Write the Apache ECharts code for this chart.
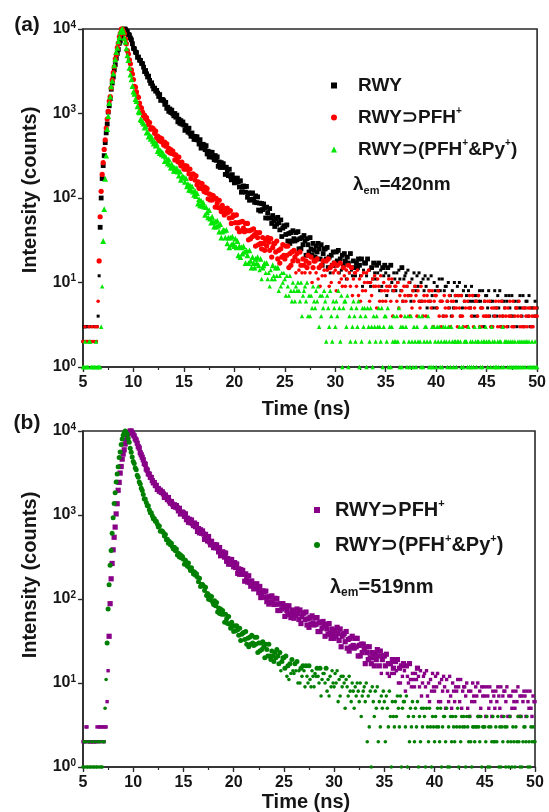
<!DOCTYPE html>
<html><head><meta charset="utf-8">
<script src="https://cdn.jsdelivr.net/npm/echarts@6/dist/echarts.min.js"></script>
<style>html,body{margin:0;padding:0;background:#fff}#chart{width:549px;height:812px}</style>
</head><body><div id="chart"></div>
<script>
// TCSPC channels: first channel time and channel width (ns)
const timeStart = 5;
const timeStep = 0.1;
const xTickRange = [5, 50];
const yDecades = [1, 10000];

// Panel (a), lambda_em = 420 nm
const rwyA = [
2,3,3,3,3,2,2,3,2,2,
2,3,2,2,3,4,12,45,100,170,
242,317,452,590,752,1040,1235,1500,1938,2290,
2702,3283,3781,4499,5138,5728,6765,7215,8220,9135,
9680,10000,9950,9450,9220,8620,8470,7820,7430,6690,
5904,5831,5329,5252,4627,4655,4277,4250,3918,3885,
3535,3135,3229,2950,2706,2772,2463,2275,2306,2119,
1954,1997,1838,1876,1741,1591,1675,1429,1469,1461,
1417,1283,1354,1152,1188,1060,1131,1028,1095,993,
939,1000,903,956,798,855,765,823,748,793,
728,632,718,655,601,670,582,538,588,537,
493,536,490,530,486,435,490,389,424,432,
423,373,416,332,358,306,349,307,347,304,
284,318,279,307,237,267,230,262,231,255,
231,190,231,206,184,219,181,164,189,168,
151,171,154,172,155,135,160,117,134,139,
136,117,137,102,115,94,113,96,115,97,
89,106,88,103,72,87,70,86,73,85,
76,58,78,67,58,75,58,50,62,54,
46,57,49,59,51,42,55,35,44,47,
46,37,48,31,38,29,39,31,41,33,
31,39,32,40,25,33,25,34,28,36,
31,21,33,28,23,34,25,21,29,24,
20,27,23,29,25,19,28,16,22,25,
25,19,26,15,20,13,21,16,23,17,
16,23,18,24,13,19,14,21,16,22,
18,11,20,17,13,22,14,12,18,15,
12,17,15,19,16,12,19,9,14,17,
17,12,19,10,14,9,15,11,17,13,
11,16,13,17,8,14,9,15,12,16,
13,7,15,12,9,16,10,8,13,11,
8,13,10,14,11,8,15,6,11,12,
13,9,14,7,10,6,11,8,13,9,
8,12,9,13,6,10,6,11,8,12,
9,5,11,8,6,12,7,5,10,8,
5,9,8,11,8,6,11,4,8,9,
9,6,10,5,7,4,8,5,10,7,
6,9,7,10,4,7,5,8,6,9,
7,3,8,6,5,9,6,4,7,6,
4,7,6,8,6,5,8,3,6,7,
7,5,8,4,6,3,6,4,8,5,
4,7,5,8,3,6,4,6,5,7,
6,3,7,5,4,7,4,3,6,5,
3,6,5,7,5,4,7,3,5,6,
6,4,7,3,5,3,5,4,6,4,
5];

const pfhA = [
2,2,3,2,2,2,3,2,2,3,
2,2,3,2,3,6,18,60,120,190,
262,376,488,673,860,1058,1404,1584,2008,2509,
3045,3573,4408,4998,6015,6825,8080,8888,9960,10000,
9386,8806,7577,6695,5546,5045,4308,3868,3280,2927,
2525,2090,2049,1800,1581,1554,1330,1181,1158,1040,
932,956,868,893,817,738,781,651,675,672,
650,583,621,519,541,478,519,468,506,453,
424,458,411,436,357,386,342,373,337,360,
329,282,325,295,269,305,261,240,266,240,
220,241,219,238,218,193,220,171,188,193,
188,163,183,143,155,130,150,130,148,128,
119,135,116,129,98,112,95,109,95,107,
98,78,99,87,77,94,76,69,82,72,
63,75,66,76,68,58,71,50,59,63,
62,51,63,44,51,40,52,41,53,44,
40,50,41,50,32,41,33,42,35,43,
37,27,39,34,28,39,29,25,34,29,
24,32,27,34,30,24,33,20,26,29,
29,23,31,19,24,17,25,20,28,21,
19,27,21,27,15,22,16,23,18,24,
20,13,22,18,14,23,16,13,19,16,
13,18,15,21,17,13,20,10,15,18,
18,13,19,11,15,9,16,12,18,14,
12,18,14,19,9,15,10,16,13,17,
14,8,16,13,10,17,11,9,15,12,
9,14,11,16,13,9,15,7,11,13,
13,9,14,7,11,6,12,8,13,10,
8,13,10,14,6,10,7,11,9,12,
9,5,11,9,6,12,8,6,10,8,
6,9,8,11,9,6,11,4,8,9,
9,6,10,5,7,4,8,6,9,7,
6,9,7,10,4,7,5,8,6,9,
7,4,8,6,5,9,6,4,7,6,
4,7,6,8,6,5,8,3,6,7,
7,5,8,4,6,3,6,4,7,5,
4,6,5,7,3,6,4,6,5,7,
5,3,7,5,4,7,4,3,6,5,
3,6,5,7,5,4,7,3,5,6,
6,4,7,3,5,3,5,4,6,4,
4,6,4,6,3,5,3,5,4,6,
5,3,6,4,3,6,4,3,5,4,
3,5,4,6,4,3,6,3,4,5,
5,4,6,3,4,3,5,3,5,4,
3,5,4,5,3,4,3,5,4,5,
4];

const pfhPyA = [
1,1,2,1,1,1,2,2,1,1,
1,1,1,2,1,1,1,1,3,9,
31,74,168,317,653,931,1326,1580,2090,2438,
2970,3723,4389,5330,5963,7153,7958,9237,9751,10000,
9255,7857,7045,5900,4861,4275,3469,2879,2538,2117,
1814,1714,1485,1400,1218,1053,1029,855,834,798,
761,680,708,595,604,532,560,502,528,473,
441,465,417,436,360,382,339,363,329,345,
317,273,308,281,257,287,248,229,251,229,
210,228,208,225,206,184,207,164,178,180,
176,155,172,137,147,125,141,123,137,119,
109,121,105,114,86,97,82,93,81,89,
79,63,78,68,59,72,57,51,60,52,
46,53,46,54,47,40,49,34,40,42,
41,34,42,29,34,26,34,28,35,29,
27,33,26,31,21,27,20,26,22,27,
23,17,24,21,17,24,18,15,20,17,
15,19,17,20,16,14,19,11,15,16,
17,13,17,11,13,9,14,11,16,12,
11,15,12,15,8,12,9,13,10,13,
11,7,12,9,7,12,8,6,10,8,
6,9,8,10,8,6,10,4,7,8,
9,6,10,4,7,4,7,5,9,6,
5,8,6,9,3,7,4,7,5,8,
6,2,7,5,3,8,4,2,6,5,
3,6,4,8,5,2,7,1,5,6,
6,3,7,1,4,2,5,3,6,4,
2,5,3,6,1,4,2,5,3,5,
4,1,5,3,2,5,3,1,4,3,
2,4,3,5,3,2,5,1,3,4,
4,2,5,1,3,1,3,2,4,2,
2,4,2,5,1,3,1,3,2,4,
3,1,4,2,1,4,2,1,3,2,
1,3,2,4,2,1,4,1,2,3,
3,2,4,1,2,1,3,1,3,2,
1,3,2,3,1,2,1,3,2,3,
2,1,3,2,1,3,2,1,2,2,
1,2,2,3,2,1,3,1,2,2,
2,1,3,1,2,1,2,1,3,2,
1,2,2,3,1,2,1,2,2,3,
2,1,2,2,1,3,2,1,2,1,
1,2,1,2,2,1,3,1,2,2,
2,1,2,1,2,1,2,1,2,1,
1,2,1,2,1,2,1,2,1,2,
2,1,2,1,1,2,1,1,2,1,
1];

// Panel (b), lambda_em = 519 nm
const pfhB = [
2,2,2,3,3,2,2,2,2,2,
2,2,2,2,3,2,3,3,2,3,
3,2,3,3,6,14,36,88,174,265,
385,543,718,1030,1362,1968,2448,3156,3777,4622,
5321,5978,6997,7700,8398,9384,9642,10000,9990,9562,
8990,8737,8060,7771,7153,6518,6253,5509,5213,4872,
4543,4106,4005,3519,3412,3088,3062,2810,2795,2571,
2416,2435,2240,2257,2015,2068,1918,1977,1853,1889,
1784,1621,1729,1620,1523,1614,1460,1381,1444,1350,
1265,1324,1240,1295,1213,1121,1201,1027,1076,1082,
1059,964,1032,879,917,820,888,809,872,790,
748,803,725,771,638,689,614,667,607,646,
594,513,588,536,491,554,478,442,487,443,
409,445,408,441,406,364,410,327,357,365,
357,315,352,281,303,260,296,261,295,258,
242,271,237,261,202,229,197,224,198,219,
197,163,199,177,159,189,157,142,164,146,
132,150,134,152,137,119,141,104,120,125,
122,105,124,93,106,87,106,91,109,93,
86,102,87,101,73,87,73,88,76,88,
79,62,83,73,65,83,66,60,74,66,
59,72,64,76,67,57,74,51,62,68,
68,57,70,49,58,46,60,50,63,52,
49,60,50,60,41,52,41,53,45,54,
48,36,50,44,38,51,39,34,44,38,
34,42,36,46,39,32,44,27,36,38,
39,31,41,26,33,24,34,27,36,28,
26,34,27,34,21,28,21,29,23,29,
25,17,27,23,19,27,20,17,23,20,
16,22,19,25,21,16,24,13,19,21,
21,16,22,13,17,12,17,13,19,15,
13,18,14,19,10,15,10,16,12,17,
14,8,16,12,10,17,11,9,13,11,
9,13,11,15,12,9,14,7,10,12,
13,9,14,7,10,6,11,8,13,9,
8,12,9,13,6,10,6,11,8,12,
9,5,11,8,6,12,7,5,10,8,
6,9,8,11,9,6,11,5,8,9,
9,7,10,5,8,4,8,6,10,7,
6,9,7,10,4,8,5,9,7,9,
7,4,9,7,5,9,6,4,8,7,
5,8,6,9,7,5,9,4,7,8,
8,6,9,4,7,4,7,5,8,6,
5,8,6,9,4,7,4,7,6,8,
7,4,8,6,5,8,5,4,7,6,
6];

const pfhPyB = [
1,2,1,2,1,1,2,1,1,2,
1,1,2,1,1,2,1,2,1,1,
2,2,5,11,30,76,148,252,378,605,
930,1366,1839,2465,3077,3743,4841,5626,6921,8042,
8906,9443,10000,9545,9118,8134,7358,6237,5599,4890,
4347,4096,3639,3451,2968,2805,2477,2341,2087,1962,
1754,1555,1552,1410,1288,1290,1151,1065,1061,977,
902,908,840,844,784,720,741,642,651,641,
618,564,585,506,514,462,484,441,462,418,
394,414,376,393,333,351,317,336,308,321,
297,260,289,265,245,269,235,218,235,215,
199,210,192,200,182,161,177,141,149,149,
143,126,138,110,116,99,110,97,107,93,
86,95,83,91,70,78,67,76,66,73,
66,53,66,58,51,62,50,45,53,47,
41,48,42,48,43,37,45,32,38,39,
40,33,41,29,34,27,35,29,37,30,
28,35,29,35,23,30,24,30,25,31,
27,20,29,25,21,29,21,19,24,21,
18,23,20,25,21,17,23,14,18,20,
20,15,21,12,16,11,17,13,19,14,
13,17,14,18,10,14,10,15,12,16,
14,9,16,12,10,16,11,9,14,12,
9,13,12,15,12,10,15,7,11,13,
13,10,15,8,11,7,12,9,14,10,
9,13,10,14,6,11,7,12,9,12,
10,5,11,9,7,12,8,6,10,8,
5,9,7,10,8,6,10,4,7,8,
9,6,10,2,7,3,8,1,9,6,
4,8,5,9,2,6,3,7,5,8,
6,2,7,5,3,8,4,1,6,4,
3,6,4,7,5,3,7,1,5,6,
6,3,7,1,4,2,5,3,6,4,
2,5,3,6,1,4,2,5,3,5,
4,1,5,3,2,5,3,1,4,3,
2,4,3,5,3,2,5,1,3,4,
4,2,5,1,3,1,4,2,4,3,
2,4,3,5,1,3,2,4,3,4,
3,1,4,3,2,4,2,1,3,3,
2,3,3,4,3,2,4,1,3,3,
3,2,4,1,3,1,3,2,4,2,
2,3,2,4,1,3,1,3,2,4,
3,1,3,2,1,4,2,1,3,2,
1,3,2,4,2,1,4,1,2,3,
3,2,4,1,2,1,3,2,3,2,
2];

const namesA = ['RWY', 'RWY⊃PFH+', 'RWY⊃(PFH+&Py+)'];
const namesB = ['RWY⊃PFH+\u200B', 'RWY⊃(PFH+&Py+)\u200B'];
const lambdaA = '420nm';
const lambdaB = '519nm';

const FONT = 'Arial, "Liberation Sans", Helvetica, sans-serif';
const INK = '#151515';
const AX = '#2a2a2a';

function toPoints(values) {
  return values.map((v, i) => [Math.round((timeStart + i * timeStep) * 100) / 100, v]);
}
function supName(name) {
  return '{t|' + name.replace(/\u200B/g, '').replace(/\+/g, '}{s|+}{t|') + '}';
}
function yLabel(v) {
  const e = Math.round(Math.log10(v));
  return '{b|10}{s|' + e + '}';
}
function xAxisCfg(gi) {
  return {
    type: 'value', gridIndex: gi, min: xTickRange[0], max: xTickRange[1], interval: 5,
    axisLine: { show: true, onZero: false, lineStyle: { color: AX, width: 1.6 } },
    axisTick: { show: true, inside: false, length: 5, lineStyle: { color: AX, width: 1.4 } },
    minorTick: { show: true, splitNumber: 2, length: 3, lineStyle: { color: AX, width: 1.2 } },
    splitLine: { show: false },
    axisLabel: { margin: 8, color: INK, fontSize: 16, fontWeight: 'bold', fontFamily: FONT }
  };
}
function yAxisCfg(gi) {
  return {
    type: 'log', gridIndex: gi, logBase: 10, min: yDecades[0], max: yDecades[1],
    axisLine: { show: true, lineStyle: { color: AX, width: 1.6 } },
    axisTick: { show: true, inside: false, length: 5, lineStyle: { color: AX, width: 1.4 } },
    minorTick: { show: false },
    splitLine: { show: false },
    axisLabel: {
      margin: 7, formatter: yLabel,
      rich: {
        b: { fontSize: 16, fontWeight: 'bold', color: INK, fontFamily: FONT, lineHeight: 18 },
        s: { fontSize: 10, fontWeight: 'bold', color: INK, fontFamily: FONT, verticalAlign: 'top', lineHeight: 10 }
      }
    }
  };
}
// larger markers where the decay band is dense, small dots in the sparse tail
function scatter(name, xi, data, symbol, bigSize, smallSize, color) {
  return {
    type: 'scatter', name, xAxisIndex: xi, yAxisIndex: xi, data: toPoints(data),
    symbol, symbolSize: (val) => (val[1] > 14 ? bigSize : smallSize),
    itemStyle: { color, opacity: 1 }, silent: true,
    emphasis: { disabled: true }, animation: false, clip: true
  };
}
function legendCfg(items, left, top, gap, fs, padLeft) {
  return {
    data: items, orient: 'vertical', left, top, itemWidth: 6, itemHeight: 6, itemGap: gap,
    selectedMode: false, formatter: supName,
    textStyle: {
      padding: [0, 0, 0, padLeft],
      rich: {
        t: { fontSize: fs, fontWeight: 'bold', fontFamily: FONT, color: INK, lineHeight: fs + 4 },
        s: { fontSize: Math.round(fs * 0.55), fontWeight: 'bold', fontFamily: FONT, color: INK, verticalAlign: 'top', lineHeight: 11 }
      }
    }
  };
}
function lambdaText(x, y, val, fs) {
  return {
    type: 'text', x, y,
    style: {
      text: '{l|λ}{u|em}{n|=' + val + '}', verticalAlign: 'middle',
      rich: {
        l: { fontSize: fs, fontWeight: 'bold', fontFamily: FONT, fill: INK, lineHeight: fs + 4 },
        u: { fontSize: Math.round(fs * 0.6), fontWeight: 'bold', fontFamily: FONT, fill: INK, verticalAlign: 'bottom', lineHeight: 10 },
        n: { fontSize: fs, fontWeight: 'bold', fontFamily: FONT, fill: INK, lineHeight: fs + 4 }
      }
    }
  };
}
function plainText(x, y, text, fs, rot) {
  return {
    type: 'text', x, y, rotation: rot || 0,
    style: { text, align: 'center', verticalAlign: 'middle', font: 'bold ' + fs + 'px ' + FONT, fill: INK }
  };
}

const chart = echarts.init(document.getElementById('chart'), null, { renderer: 'canvas' });
chart.setOption({
  animation: false,
  backgroundColor: '#ffffff',
  grid: [
    { left: 83, right: 9, top: 29, height: 338, show: true, borderColor: AX, borderWidth: 1.6, backgroundColor: 'transparent' },
    { left: 83, right: 14, top: 431, height: 336, show: true, borderColor: AX, borderWidth: 1.6, backgroundColor: 'transparent' }
  ],
  xAxis: [xAxisCfg(0), xAxisCfg(1)],
  yAxis: [yAxisCfg(0), yAxisCfg(1)],
  legend: [
    legendCfg([{ name: namesA[0], icon: 'rect' }, { name: namesA[1], icon: 'circle' }, { name: namesA[2], icon: 'triangle' }], 326, 71, 11, 19, 16),
    legendCfg([{ name: namesB[0], icon: 'rect' }, { name: namesB[1], icon: 'circle' }], 309, 493, 13, 20, 10)
  ],
  series: [
    scatter(namesA[0], 0, rwyA, 'rect', 4.8, 3, '#000000'),
    scatter(namesA[1], 0, pfhA, 'circle', 5.2, 3.6, '#ff0000'),
    scatter(namesA[2], 0, pfhPyA, 'triangle', 5.8, 4.4, '#00e600'),
    scatter(namesB[0], 1, pfhB, 'rect', 5.2, 3.4, '#880088'),
    scatter(namesB[1], 1, pfhPyB, 'circle', 5, 3.6, '#008000')
  ],
  graphic: [
    plainText(27, 25, '(a)', 21),
    plainText(27, 423, '(b)', 21),
    plainText(306, 409, 'Time (ns)', 20),
    plainText(306, 802, 'Time (ns)', 20),
    plainText(30, 190, 'Intensity (counts)', 20, Math.PI / 2),
    plainText(30, 575, 'Intensity (counts)', 20, Math.PI / 2),
    lambdaText(353, 185, lambdaA, 19),
    lambdaText(330, 587, lambdaB, 20)
  ]
});
</script></body></html>
